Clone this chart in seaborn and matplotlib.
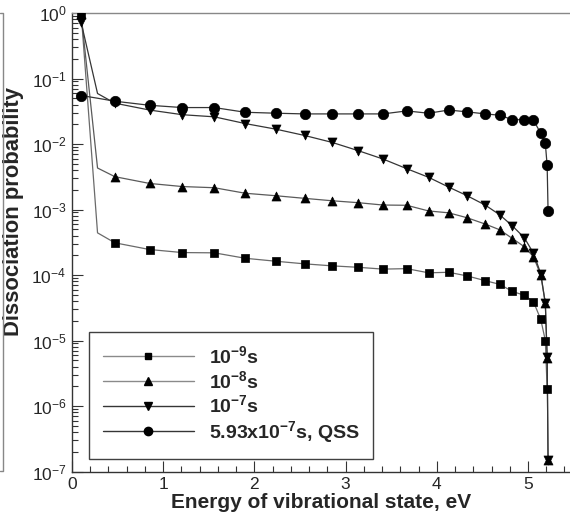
import numpy as np
import pandas as pd
import matplotlib
matplotlib.use("Agg")
import matplotlib.pyplot as plt
from matplotlib.lines import Line2D
from matplotlib.ticker import MultipleLocator, LogLocator, NullFormatter
import seaborn as sns

# ---- data ----
energy = [0.10, 0.28, 0.47, 0.85, 1.21, 1.56, 1.90, 2.24, 2.55, 2.85, 3.14, 3.41,
          3.67, 3.91, 4.13, 4.33, 4.53, 4.69, 4.83, 4.96, 5.06, 5.14, 5.19, 5.21, 5.22]

p_1e9 = [1.0, 4.4e-4, 3.1e-4, 2.45e-4, 2.2e-4, 2.18e-4, 1.8e-4, 1.62e-4, 1.48e-4,
         1.38e-4, 1.31e-4, 1.23e-4, 1.25e-4, 1.08e-4, 1.1e-4, 9.7e-5, 8.2e-5, 7.2e-5,
         5.6e-5, 4.9e-5, 3.9e-5, 2.1e-5, 1.0e-5, 1.8e-6]

p_1e8 = [0.95, 4.3e-3, 3.17e-3, 2.5e-3, 2.24e-3, 2.15e-3, 1.77e-3, 1.62e-3, 1.48e-3,
         1.36e-3, 1.27e-3, 1.17e-3, 1.16e-3, 9.5e-4, 8.9e-4, 7.5e-4, 6.0e-4, 4.9e-4,
         3.6e-4, 2.7e-4, 1.9e-4, 1.0e-4, 3.7e-5, 5.4e-6, 1.5e-7]

p_1e7 = [0.72, 0.059, 0.042, 0.033, 0.028, 0.026, 0.0205, 0.0168, 0.0135, 0.0106,
         0.0079, 0.0059, 0.0042, 0.0031, 0.0022, 0.00163, 1.17e-3, 8.3e-4, 5.6e-4,
         3.7e-4, 2.15e-4, 1.05e-4, 3.7e-5, 5.6e-6, 1.5e-7]

p_qss = [0.055, 0.050, 0.045, 0.039, 0.036, 0.036, 0.0305, 0.0295, 0.0288, 0.0288,
         0.0288, 0.0288, 0.032, 0.0295, 0.033, 0.031, 0.0288, 0.0275, 0.0235, 0.0235,
         0.0232, 0.0145, 0.0102, 0.0047, 9.6e-4]

labels = [r"10$^{\mathbf{-9}}$s", r"10$^{\mathbf{-8}}$s", r"10$^{\mathbf{-7}}$s",
          r"5.93x10$^{\mathbf{-7}}$s, QSS"]
x_ticks = [0, 1, 2, 3, 4, 5]

# ---- style ----
sns.set_style("ticks")
plt.rcParams["font.family"] = ["Liberation Sans", "DejaVu Sans"]
plt.rcParams["mathtext.fontset"] = "custom"
plt.rcParams["mathtext.rm"] = "Liberation Sans"
plt.rcParams["mathtext.it"] = "Liberation Sans:italic"
plt.rcParams["mathtext.bf"] = "Liberation Sans:bold"

fig = plt.figure(figsize=(5.70, 5.15), dpi=100)
ax = fig.add_axes([72 / 570, 1 - 471.5 / 515, (570 - 72) / 570, (471.5 - 13) / 515])

series = [p_1e9, p_1e8, p_1e7, p_qss]
markers = ["s", "^", "v", "o"]
sizes = [34, 42, 42, 56]
lcolors = ["#6a6a6a", "#5a5a5a", "#353535", "#353535"]
lg_colors = ["#8a8a8a", "#8a8a8a", "#353535", "#353535"]

handles = []
for vals, mk, sz, lc, gc, lab in zip(series, markers, sizes, lcolors, lg_colors, labels):
    xs = energy[:len(vals)]
    df = pd.DataFrame({"E": xs, "P": vals})
    sns.lineplot(data=df, x="E", y="P", color=lc, lw=0.9, ax=ax,
                 estimator=None, sort=False, legend=False)
    dm = df.drop(index=1)  # point at 0.28 eV drawn without marker
    sns.scatterplot(data=dm, x="E", y="P", marker=mk, s=sz, color="black",
                    edgecolor="black", linewidth=0.5, ax=ax, legend=False, zorder=3)
    handles.append(Line2D([], [], color=gc, lw=1.0, marker=mk,
                          markersize=np.sqrt(sz) * 0.8, markerfacecolor="black",
                          markeredgecolor="black", label=lab))

ax.set_yscale("log")
ax.set_ylim(1e-7, 1)
ax.set_xlim(0, (570 - 72) / 91.2)

ax.set_xticks(x_ticks)
ax.xaxis.set_minor_locator(MultipleLocator(0.2))
ax.yaxis.set_major_locator(LogLocator(base=10, numticks=20))
ax.yaxis.set_minor_locator(LogLocator(base=10, subs=np.arange(2, 10), numticks=20))
ax.yaxis.set_minor_formatter(NullFormatter())

ax.tick_params(axis="both", which="major", direction="in", length=8, width=0.8,
               color="#333333", labelsize=12.5, pad=4)
ax.tick_params(axis="both", which="minor", direction="in", length=4.5, width=0.8,
               color="#333333")
ax.tick_params(top=False, right=False, which="both")

for s in ["left", "bottom"]:
    ax.spines[s].set_color("#333333")
    ax.spines[s].set_linewidth(1.0)
ax.spines["top"].set_color("#888888")
ax.spines["top"].set_linewidth(1.0)
ax.spines["right"].set_visible(False)

ax.set_xlabel("Energy of vibrational state, eV", fontsize=15, fontweight="bold", labelpad=1)
ax.set_ylabel("Dissociation probability", fontsize=15.8, fontweight="bold")
ax.yaxis.set_label_coords(-0.097, 0.568)

leg = ax.legend(handles=handles, loc="lower left", bbox_to_anchor=(0.034, 0.028),
                borderaxespad=0, prop={"size": 14, "weight": "bold"},
                handlelength=4.7, handletextpad=0.75,
                labelspacing=0.14, borderpad=0.7, frameon=True, fancybox=False,
                edgecolor="#404040", framealpha=1)
leg.get_frame().set_linewidth(1.0)

# partial frame line of the neighbouring panel at the far left
fig.add_artist(Line2D([0, 3 / 570, 3 / 570, 0],
                      [1 - 13 / 515, 1 - 13 / 515, 1 - 471 / 515, 1 - 471 / 515],
                      color="#888888", lw=1.0))

fig.savefig("out.png", dpi=100)
